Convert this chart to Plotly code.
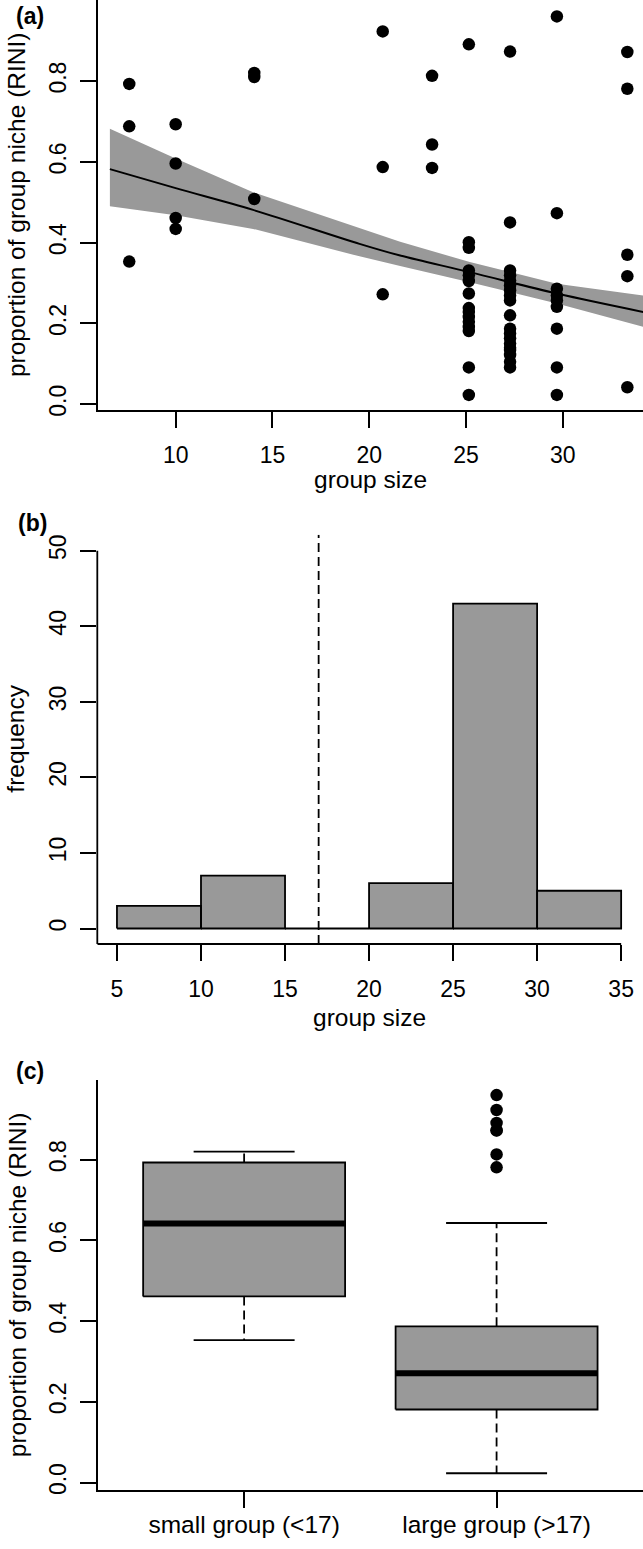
import numpy as np
import plotly.graph_objects as go

# ---- data ----
# panel (a): group size columns and the RINI values seen in each column
col_size = [7.6, 10.0, 14.06, 20.7, 23.25, 25.15, 27.28, 29.7, 33.34]
col_rini = [
    [0.793, 0.688, 0.353],
    [0.693, 0.596, 0.461, 0.434],
    [0.820, 0.810, 0.508],
    [0.923, 0.587, 0.272],
    [0.813, 0.643, 0.585],
    [0.891, 0.401, 0.387, 0.331, 0.319, 0.305, 0.274, 0.238, 0.228, 0.216,
     0.204, 0.191, 0.181, 0.091, 0.023],
    [0.873, 0.450, 0.331, 0.319, 0.306, 0.294, 0.282, 0.269, 0.257, 0.220,
     0.187, 0.175, 0.163, 0.150, 0.140, 0.134, 0.122, 0.105, 0.091],
    [0.960, 0.473, 0.286, 0.269, 0.257, 0.241, 0.187, 0.091, 0.023],
    [0.872, 0.781, 0.370, 0.317, 0.042],
]

# fitted curve and its confidence band
fit_x = [6.6, 10.0, 14.0, 19.5, 21.6, 25.2, 29.7, 34.2]
fit_y = [0.582, 0.535, 0.481, 0.397, 0.368, 0.327, 0.274, 0.228]
fit_lo = [0.490, 0.468, 0.434, 0.366, 0.342, 0.302, 0.249, 0.191]
fit_hi = [0.682, 0.608, 0.525, 0.436, 0.402, 0.352, 0.298, 0.269]

# panel (b): histogram of group size
hist_edges = [5, 10, 15, 20, 25, 30, 35]
hist_counts = [3, 7, 0, 6, 43, 5]
size_cut = 17

# panel (c): groups
box_labels = ["small group (<17)", "large group (>17)"]

GREY = "#999999"
FONT = "Liberation Sans, Arial, sans-serif"
FS = 23      # numeric tick labels
FS_T = 24.5  # titles and category labels
LW = 1.8
DASH = "9px,5px"

group_size = [s for s, vals in zip(col_size, col_rini) for _ in vals]
rini = [v for vals in col_rini for v in vals]


def fivenum(v):
    v = np.sort(np.asarray(v, dtype=float))
    n = len(v)
    n4 = np.floor((n + 3) / 2) / 2
    d = np.array([1, n4, (n + 1) / 2, n + 1 - n4, n]) - 1
    return 0.5 * (v[np.floor(d).astype(int)] + v[np.ceil(d).astype(int)])


fig = go.Figure()

# ---- (a) ----
fig.add_trace(go.Scatter(
    x=fit_x + fit_x[::-1], y=fit_hi + fit_lo[::-1],
    fill='toself', fillcolor=GREY, line=dict(width=0), mode='lines',
    hoverinfo='skip', xaxis='x', yaxis='y'))
fig.add_trace(go.Scatter(
    x=fit_x, y=fit_y, mode='lines', line=dict(color='black', width=2),
    line_shape='spline', xaxis='x', yaxis='y'))
fig.add_trace(go.Scatter(
    x=group_size, y=rini, mode='markers',
    marker=dict(color='black', size=12.5), xaxis='x', yaxis='y'))

# ---- (b) ----
hx, hy = [], []
for l, r, c in zip(hist_edges[:-1], hist_edges[1:], hist_counts):
    hx += [l, l, r, r, l, None]
    hy += [0, c, c, 0, 0, None]
fig.add_trace(go.Scatter(
    x=hx, y=hy, mode='lines', fill='toself', fillcolor=GREY,
    line=dict(color='black', width=LW), xaxis='x2', yaxis='y2'))

# ---- (c) ----
rini_arr = np.array(rini)
size_arr = np.array(group_size)
groups = [rini_arr[size_arr < size_cut], rini_arr[size_arr > size_cut]]
for i, vals in enumerate(groups):
    c = i + 1
    mn, q1, med, q3, mx = fivenum(vals)
    iqr = q3 - q1
    inside = vals[(vals >= q1 - 1.5 * iqr) & (vals <= q3 + 1.5 * iqr)]
    lo_w, hi_w = inside.min(), inside.max()
    out = vals[(vals < lo_w) | (vals > hi_w)]
    hw = 0.4
    # whiskers (dashed)
    fig.add_trace(go.Scatter(
        x=[c, c, None, c, c], y=[q3, hi_w, None, q1, lo_w], mode='lines',
        line=dict(color='black', width=LW, dash=DASH),
        xaxis='x3', yaxis='y3'))
    # staples
    fig.add_trace(go.Scatter(
        x=[c - hw / 2, c + hw / 2, None, c - hw / 2, c + hw / 2],
        y=[hi_w, hi_w, None, lo_w, lo_w], mode='lines',
        line=dict(color='black', width=LW), xaxis='x3', yaxis='y3'))
    # box
    fig.add_trace(go.Scatter(
        x=[c - hw, c + hw, c + hw, c - hw, c - hw],
        y=[q1, q1, q3, q3, q1], mode='lines', fill='toself',
        fillcolor=GREY, line=dict(color='black', width=LW),
        xaxis='x3', yaxis='y3'))
    # median
    fig.add_trace(go.Scatter(
        x=[c - hw, c + hw], y=[med, med], mode='lines',
        line=dict(color='black', width=6), xaxis='x3', yaxis='y3'))
    if len(out):
        fig.add_trace(go.Scatter(
            x=[c] * len(out), y=out, mode='markers',
            marker=dict(color='black', size=12.5), xaxis='x3', yaxis='y3'))

H = 1549.0
W = 643.0


def pyd(top_px, bot_px):
    return [1 - bot_px / H, 1 - top_px / H]


axis_common = dict(
    showgrid=False, zeroline=False, ticks='outside', ticklen=16,
    tickwidth=LW, tickcolor='black', linecolor='black', linewidth=LW,
    tickfont=dict(family=FONT, size=FS, color='black'))
ytick = dict(tickangle=-90)

fig.update_layout(
    width=643, height=1549, margin=dict(l=0, r=0, t=0, b=0),
    paper_bgcolor='white', plot_bgcolor='white', showlegend=False,
    font=dict(family=FONT, size=FS, color='black'),
    xaxis=dict(domain=[97.7 / W, 1], range=[5.97, 34.15], anchor='y',
               tickvals=[10, 15, 20, 25, 30], showline=True,
               ticklabelstandoff=8, **axis_common),
    yaxis=dict(domain=pyd(0, 411.7), range=[-0.014, 1.0007], anchor='x',
               tickvals=[0, 0.2, 0.4, 0.6, 0.8],
               ticktext=['0.0', '0.2', '0.4', '0.6', '0.8'], showline=True,
               ticklabelstandoff=5, **ytick, **axis_common),
    xaxis2=dict(domain=[97.3 / W, 1], range=[3.83, 36.3], anchor='y2',
                tickvals=[5, 10, 15, 20, 25, 30, 35], showline=False,
                ticklabelstandoff=8, **axis_common),
    yaxis2=dict(domain=pyd(537.3, 948.3), range=[-2.05, 52.1], anchor='x2',
                tickvals=[0, 10, 20, 30, 40, 50], showline=False,
                ticklabelstandoff=5, **ytick, **axis_common),
    xaxis3=dict(domain=[97.7 / W, 1], range=[0.42, 2.58], anchor='y3',
                tickvals=[1, 2], ticktext=box_labels, showline=True,
                ticklabelstandoff=-4, **axis_common),
    yaxis3=dict(domain=pyd(1084.8, 1496.4), range=[-0.0176, 0.9976],
                anchor='x3', tickvals=[0, 0.2, 0.4, 0.6, 0.8],
                ticktext=['0.0', '0.2', '0.4', '0.6', '0.8'], showline=True,
                ticklabelstandoff=5, **ytick, **axis_common),
)
fig.update_layout(xaxis3_tickfont_size=FS_T)

# panel (b) axis lines and the size cut-off
fig.add_shape(type='line', xref='x2 domain', yref='y2', x0=0, x1=0,
              y0=-2.05, y1=50, line=dict(color='black', width=LW))
fig.add_shape(type='line', xref='x2', yref='y2 domain', x0=3.83,
              x1=hist_edges[-1], y0=0, y1=0, line=dict(color='black', width=LW))
fig.add_shape(type='line', xref='x2', yref='y2', x0=size_cut, x1=size_cut,
              y0=-2.05, y1=52.1,
              line=dict(color='black', width=LW, dash=DASH))


def label(text, x_px, y_px, angle=0, bold=False, size=FS_T):
    fig.add_annotation(
        text=f"<b>{text}</b>" if bold else text, xref='paper', yref='paper',
        x=x_px / W, y=1 - y_px / H, xanchor='center', yanchor='middle',
        showarrow=False, textangle=angle,
        font=dict(family=FONT, size=size, color='black'))


label("(a)", 30, 16, bold=True, size=FS)
label("(b)", 32, 525, bold=True, size=FS)
label("(c)", 30, 1076, bold=True, size=FS)
label("group size", 370, 482)
label("group size", 369, 1022)
label("proportion of group niche (RINI)", 16, 206, angle=-90)
label("frequency", 16, 742, angle=-90)
label("proportion of group niche (RINI)", 17, 1291, angle=-90)

fig.write_html("out.html", config={'displayModeBar': False},
               post_script="document.body.style.margin='0';"
                           "document.body.style.overflow='hidden';")
